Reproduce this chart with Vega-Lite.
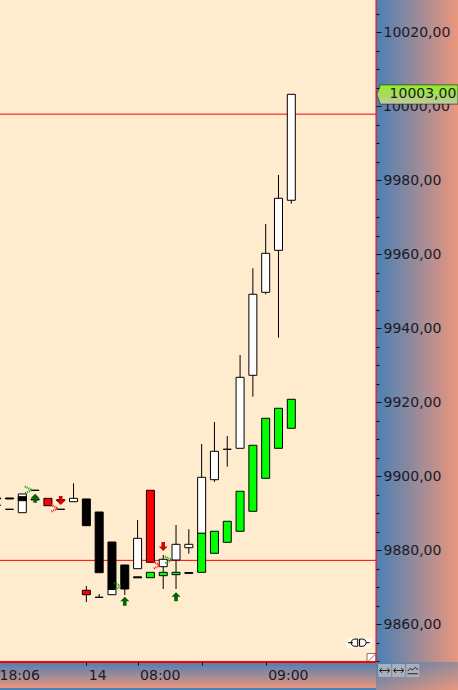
{
"$schema":"https://vega.github.io/schema/vega-lite/v6.json",
"width":376,"height":662,
"autosize":{"type":"none"},
"padding":{"left":0,"top":0,"right":82,"bottom":28},
"background":"#ffffff",
"view":{"fill":"#FFEBCD","stroke":null},
"encoding":{
 "x":{"field":"i","type":"quantitative","title":null,"scale":{"domain":[-1.741,27.612],"nice":false,"zero":false,"padding":0},
  "axis":{"orient":"bottom","zindex":1,"values":[-1.74,5,9,14,19],"domain":false,"grid":false,"tickSize":3,"tickOpacity":{"condition":{"test":"datum.value < 0","value":0},"value":1},"tickColor":"#111111","labelAlign":"left","labelBaseline":"middle","labelOffset":{"condition":{"test":"datum.value < 0","value":-1},"value":2},"labelPadding":10,"labelBound":false,"labelFlush":false,"labelOverlap":false,"labelFont":"DejaVu Sans","labelFontSize":14,"labelColor":"#1a1a2a","labelExpr":"datum.value<0?'18:06':datum.value==5?'14':datum.value==9?'08:00':datum.value==19?'09:00':''"}},
 "y":{"field":"top","type":"quantitative","title":null,"scale":{"domain":[9849.73,10028.65],"nice":false,"zero":false},
  "axis":{"orient":"right","zindex":1,"values":[9850,9855,9860,9865,9870,9875,9880,9885,9890,9895,9900,9905,9910,9915,9920,9925,9930,9935,9940,9945,9950,9955,9960,9965,9970,9975,9980,9985,9990,9995,10000,10005,10010,10015,10020,10025],"domain":false,"grid":false,"tickSize":{"condition":{"test":"datum.value % 20 == 0","value":5},"value":3},"tickColor":"#111111","labelPadding":2,"labelBound":false,"labelFlush":false,"labelOverlap":false,"labelFont":"DejaVu Sans","labelFontSize":14,"labelColor":"#1a1a2a","labelExpr":"(datum.value % 20 == 0 && datum.value != 10000) ? replace(format(datum.value,'.2f'),'.',',') : ''"}}
},
"layer":[
 {"data":{"values":[{"i":27.612,"i2":34.01,"top":10028.65,"bottom":9849.73}]},
  "mark":{"type":"rect","fill":{"gradient":"linear","x1":0,"y1":0,"x2":1,"y2":0,"stops":[{"offset":0,"color":"#4A80B5"},{"offset":1,"color":"#EB967C"}]}},
  "encoding":{"x2":{"field":"i2"},"y2":{"field":"bottom"}}},
 {"data":{"values":[{"i":-1.741,"i2":27.612,"top":9849.73,"bottom":9842.7}]},
  "mark":{"type":"rect","fill":{"gradient":"linear","x1":0,"y1":0,"x2":0,"y2":1,"stops":[{"offset":0,"color":"#4A80B5"},{"offset":1,"color":"#EB967C"}]}},
  "encoding":{"x2":{"field":"i2"},"y2":{"field":"bottom"}}},
 {"data":{"values":[{"i":27.612,"i2":34.01,"top":9849.73,"bottom":9842.16}]},
  "mark":{"type":"rect","fill":{"gradient":"linear","x1":0,"y1":0,"x2":1,"y2":1,"stops":[{"offset":0,"color":"#4A80B5"},{"offset":1,"color":"#EB967C"}]}},
  "encoding":{"x2":{"field":"i2"},"y2":{"field":"bottom"}}},
 {"data":{"values":[{"i":-1.741,"i2":27.612,"top":9842.7,"bottom":9842.16}]},
  "mark":{"type":"rect","fill":"#4A80B5"},
  "encoding":{"x2":{"field":"i2"},"y2":{"field":"bottom"}}},
 {"data":{"values":[{"i":-1.741,"i2":27.612,"top":9997.8},{"i":-1.741,"i2":27.612,"top":9877.2}]},
  "mark":{"type":"rule","color":"#FF0000","strokeWidth":1},
  "encoding":{"x2":{"field":"i2"}}},
 {"data":{"values":[{"i":0,"top":9895.14,"bottom":9890.08},{"i":4,"top":9898.03,"bottom":9893.06},{"i":5,"top":9870.27,"bottom":9865.95},{"i":6,"top":9868.11,"bottom":9867.22},{"i":8,"top":9875.95,"bottom":9867.84},{"i":9,"top":9888.11,"bottom":9874.95},{"i":11,"top":9878.65,"bottom":9869.46},{"i":12,"top":9886.76,"bottom":9869.46},{"i":13,"top":9885.6,"bottom":9879.0},{"i":14,"top":9908.65,"bottom":9884.51},{"i":15,"top":9914.6,"bottom":9898.38},{"i":16,"top":9910.81,"bottom":9902.52},{"i":17,"top":9932.7,"bottom":9907.49},{"i":18,"top":9956.14,"bottom":9921.43},{"i":19,"top":9968.11,"bottom":9949.11},{"i":20,"top":9981.35,"bottom":9937.38},{"i":21,"top":10003.16,"bottom":9973.6}]},
  "mark":{"type":"rule","color":"#000000","strokeWidth":1},
  "encoding":{"y2":{"field":"bottom"}}},
 {"data":{"values":[
  {"i":0,"top":9895.14,"bottom":9890.08,"kind":"white"},
  {"i":4,"top":9893.97,"bottom":9893.06,"kind":"white"},
  {"i":7,"top":9869.38,"bottom":9867.92,"kind":"white"},
  {"i":9,"top":9883.16,"bottom":9874.95,"kind":"white"},
  {"i":11,"top":9877.49,"bottom":9875.49,"kind":"white"},
  {"i":12,"top":9881.54,"bottom":9877.3,"kind":"white"},
  {"i":13,"top":9881.54,"bottom":9880.62,"kind":"white"},
  {"i":14,"top":9899.65,"bottom":9884.51,"kind":"white"},
  {"i":15,"top":9906.68,"bottom":9899.0,"kind":"white"},
  {"i":16,"top":9907.22,"bottom":9907.22,"kind":"white"},
  {"i":17,"top":9926.68,"bottom":9907.49,"kind":"white"},
  {"i":18,"top":9949.11,"bottom":9927.22,"kind":"white"},
  {"i":19,"top":9960.19,"bottom":9949.65,"kind":"white"},
  {"i":20,"top":9975.06,"bottom":9961.0,"kind":"white"},
  {"i":21,"top":10003.16,"bottom":9974.52,"kind":"white"},
  {"i":-2,"top":9894.06,"bottom":9893.79,"kind":"black"},
  {"i":-2,"top":9892.08,"bottom":9892.08,"kind":"black"},
  {"i":-1,"top":9894.06,"bottom":9893.79,"kind":"black"},
  {"i":-1,"top":9891.0,"bottom":9891.0,"kind":"black"},
  {"i":0,"top":9894.41,"bottom":9893.33,"kind":"black"},
  {"i":1,"top":9893.79,"bottom":9893.52,"kind":"black"},
  {"i":1,"top":9896.14,"bottom":9896.14,"kind":"black"},
  {"i":2,"top":9893.97,"bottom":9891.97,"kind":"red"},
  {"i":3,"top":9893.6,"bottom":9893.33,"kind":"black"},
  {"i":3,"top":9891.0,"bottom":9891.0,"kind":"black"},
  {"i":5,"top":9893.79,"bottom":9886.57,"kind":"black"},
  {"i":5,"top":9869.11,"bottom":9867.92,"kind":"red"},
  {"i":6,"top":9890.27,"bottom":9873.87,"kind":"black"},
  {"i":6,"top":9867.22,"bottom":9867.22,"kind":"black"},
  {"i":7,"top":9882.16,"bottom":9869.38,"kind":"black"},
  {"i":8,"top":9875.95,"bottom":9869.46,"kind":"black"},
  {"i":9,"top":9872.75,"bottom":9872.48,"kind":"black"},
  {"i":10,"top":9896.14,"bottom":9876.68,"kind":"red"},
  {"i":10,"top":9873.97,"bottom":9872.52,"kind":"green"},
  {"i":11,"top":9873.97,"bottom":9873.06,"kind":"green"},
  {"i":12,"top":9873.97,"bottom":9873.33,"kind":"green"},
  {"i":13,"top":9873.9,"bottom":9873.68,"kind":"black"},
  {"i":14,"top":9884.51,"bottom":9873.97,"kind":"green"},
  {"i":15,"top":9885.06,"bottom":9879.11,"kind":"green"},
  {"i":16,"top":9887.76,"bottom":9882.08,"kind":"green"},
  {"i":17,"top":9895.87,"bottom":9885.06,"kind":"green"},
  {"i":18,"top":9908.3,"bottom":9890.46,"kind":"green"},
  {"i":19,"top":9915.6,"bottom":9899.38,"kind":"green"},
  {"i":20,"top":9918.3,"bottom":9907.49,"kind":"green"},
  {"i":21,"top":9920.73,"bottom":9912.89,"kind":"green"}
 ]},
  "mark":{"type":"bar","size":8,"stroke":"#000000","strokeWidth":1},
  "encoding":{"y2":{"field":"bottom"},"color":{"field":"kind","type":"nominal","legend":null,"scale":{"domain":["white","black","red","green"],"range":["#FFFFFF","#000000","#FF0000","#00FF00"]}}}},
 {"data":{"values":[{"i":1,"top":9894},{"i":8,"top":9866.14},{"i":12,"top":9867.38}]},
  "mark":{"type":"point","filled":true,"size":81,"color":"#006400","opacity":1,"shape":"M0,-1L1,0L0.4,0L0.4,1L-0.4,1L-0.4,0L-1,0Z"}},
 {"data":{"values":[{"i":3,"top":9893.38},{"i":11,"top":9880.95}]},
  "mark":{"type":"point","filled":true,"size":81,"color":"#D80000","opacity":1,"shape":"M0,1L1,0L0.4,0L0.4,-1L-0.4,-1L-0.4,0L-1,0Z"}},
 {"data":{"values":[{"i":0.47,"top":9896.22},{"i":7.45,"top":9870.19},{"i":11.4,"top":9877.3}]},
  "mark":{"type":"point","filled":false,"size":49,"color":"#009000","opacity":1,"strokeWidth":2,"strokeDash":[1,1],"shape":"M-1,-1L1,0L-1,1"}},
 {"data":{"values":[{"i":2.5,"top":9891.27},{"i":10.49,"top":9875.87}]},
  "mark":{"type":"point","filled":false,"size":49,"color":"#FF0000","opacity":1,"strokeWidth":2,"strokeDash":[1,1],"shape":"M-1,-1L1,0L-1,1"}},
 {"data":{"values":[{"i":25.33,"i2":27.28,"top":9856.22,"bottom":9853.51}]},
  "mark":{"type":"rect","fill":"#FFF8EE"},
  "encoding":{"x2":{"field":"i2"},"y2":{"field":"bottom"}}},
 {"data":{"values":[{"i":26.28,"top":9854.95}]},
  "mark":{"type":"point","filled":false,"size":576,"color":"#000000","opacity":1,"strokeWidth":1,"shape":"M-0.9,0H-0.5M-0.1,-0.3H-0.35A0.3,0.3 0 0 0 -0.35,0.3H-0.1ZM0.05,-0.3H0.3A0.3,0.3 0 0 1 0.3,0.3H0.05ZM0.6,0H0.9"}},
 {"data":{"values":[{"i":27.26,"top":9850.81}]},
  "mark":{"type":"point","filled":true,"size":81,"fill":"#FFFFFF","stroke":"#777777","opacity":1,"strokeWidth":1,"shape":"M-1,-1H1V1H-1ZM-1,1L1,-1"}},
 {"data":{"values":[{"i":-1.741,"i2":27.612,"top":9849.73}]},
  "mark":{"type":"rule","color":"#FF0000","strokeWidth":2},
  "encoding":{"x2":{"field":"i2"}}},
 {"data":{"values":[{"i":27.612,"top":10028.65,"bottom":9849.73}]},
  "mark":{"type":"rule","color":"#FF0000","strokeWidth":1},
  "encoding":{"y2":{"field":"bottom"}}},
 {"data":{"values":[{"i":28.29,"top":9847.43},{"i":29.38,"top":9847.43},{"i":30.48,"top":9847.43}]},
  "mark":{"type":"point","filled":true,"shape":"square","size":169,"color":"#A9AFBB","opacity":1}},
 {"data":{"values":[{"i":28.29,"top":9847.43},{"i":29.38,"top":9847.43}]},
  "mark":{"type":"point","filled":false,"size":169,"color":"#222222","opacity":1,"strokeWidth":1,"shape":"M-0.8,0H0.8M-0.8,0L-0.4,-0.35M-0.8,0L-0.4,0.35M0.8,0L0.4,-0.35M0.8,0L0.4,0.35"}},
 {"data":{"values":[{"i":30.48,"top":9847.43}]},
  "mark":{"type":"point","filled":false,"size":169,"color":"#222222","opacity":1,"strokeWidth":1,"shape":"M-0.8,0.1L-0.4,-0.3L0,-0.1L0.4,-0.5L0.8,-0.1M-0.8,0.5H0.8"}},
 {"data":{"values":[{"i":28.16,"top":9999.6,"label":"10000,00"}]},
  "mark":{"type":"text","align":"left","baseline":"middle","font":"DejaVu Sans","fontSize":14,"color":"#1a1a2a"},
  "encoding":{"text":{"field":"label"}}},
 {"data":{"values":[{"i":30.85,"top":10003.11}]},
  "mark":{"type":"point","filled":true,"size":6561,"opacity":1,"stroke":"#333333","strokeWidth":0.7,"fill":{"gradient":"linear","x1":0,"y1":0,"x2":0,"y2":1,"stops":[{"offset":0,"color":"#90F020"},{"offset":1,"color":"#C0C8A0"}]},"shape":"M-1,0L-0.92,-0.2375L1,-0.2375L1,0.2375L-0.92,0.2375Z"}},
 {"data":{"values":[{"i":31.28,"top":10003.11,"label":"10003,00"}]},
  "mark":{"type":"text","align":"center","baseline":"middle","font":"DejaVu Sans","fontSize":14,"color":"#1a1a1a"},
  "encoding":{"text":{"field":"label"}}}
]
}
